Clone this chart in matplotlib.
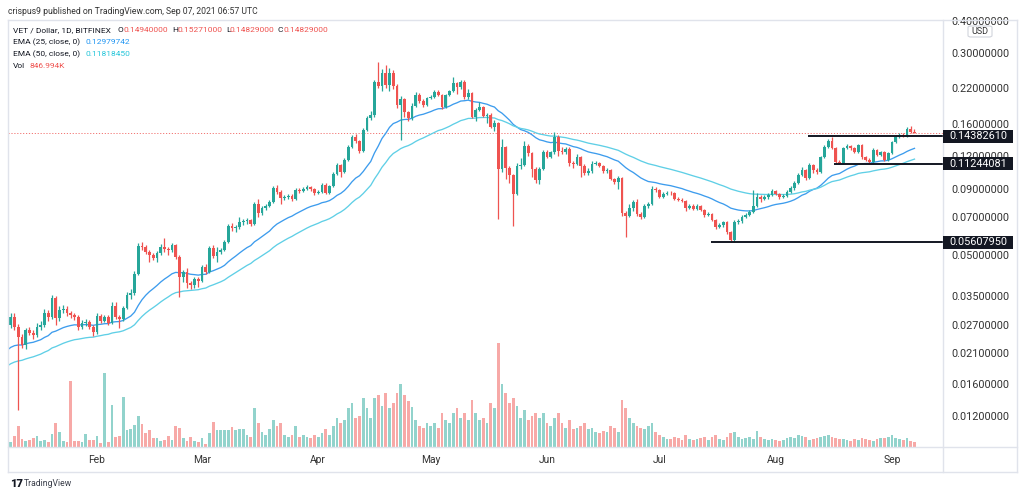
import matplotlib
matplotlib.use("Agg")
import matplotlib.pyplot as plt
import matplotlib.dates as mdates
from matplotlib.patches import Rectangle, FancyBboxPatch
from matplotlib.lines import Line2D
from matplotlib.ticker import NullLocator, FixedLocator, FixedFormatter
import numpy as np
import pandas as pd

plt.rcParams['font.family'] = ['Roboto', 'DejaVu Sans']

# ---------------- data ----------------
dates = pd.date_range('2021-01-08', '2021-09-07', freq='D')

closes = [
    .0270, .0290, .0265, .0242, .0226, .0258, .0251, .0247, .0265, .0270,
    .0300, .0290, .0343, .0287, .0308, .0311, .0300, .0295, .0290, .0265,
    .0275, .0277, .0265, .0253, .0292, .0280, .0290, .0275, .0320, .0290,
    .0284, .0314, .0352, .0358, .0424, .0543, .0539, .0515, .0501, .0488,
    .0510, .0539, .0529, .0524, .0548, .0493, .0413, .0431, .0391, .0385,
    .0405, .0398, .0451, .0431, .0534, .0497, .0515, .0524, .0563, .0648,
    .0636, .0642, .0671, .0677, .0683, .0659, .0788, .0727, .0760, .0774,
    .0802, .0907, .0876, .0831, .0838, .0846, .0824, .0892, .0884, .0899,
    .0915, .0899, .0869, .0876, .0932, .0869, .0924, .1027, .1113, .1045,
    .1163, .1305, .1425, .1376, .1259, .1516, .1686, .1732, .2320, .2240,
    .2512, .2260, .2512, .2240, .1892, .1995, .1778, .1686, .1876, .2067,
    .1961, .1892, .2013, .2031, .2123, .2067, .1859, .2067, .2142, .2300,
    .2220, .2320, .2031, .2104, .1701, .1810, .1859, .1716, .1732, .1557,
    .1614, .1074, .1305, .1083, .1018, .0861, .1103, .1113, .1316, .1237,
    .1074, .0974, .1074, .1248, .1194, .1248, .1425, .1259, .1248, .1282,
    .1133, .1123, .1194, .1103, .1036, .1055, .1123, .1133, .1103, .1055,
    .1064, .0982, .0957, .0991, .0727, .0708, .0760, .0802, .0721, .0702,
    .0774, .0788, .0899, .0892, .0838, .0861, .0869, .0866, .0824, .0816,
    .0809, .0760, .0774, .0754, .0774, .0747, .0715, .0721, .0683, .0642,
    .0653, .0671, .0615, .0573, .0671, .0677, .0702, .0715, .0734, .0774,
    .0838, .0824, .0838, .0853, .0884, .0861, .0838, .0846, .0876, .0907,
    .0948, .1018, .1064, .0991, .1113, .1064, .1045, .1194, .1305, .1376,
    .1293, .1143, .1133, .1293, .1316, .1293, .1248, .1328, .1194, .1163,
    .1143, .1270, .1215, .1248, .1163, .1237, .1364, .1425, .1450, .1438,
    .1530, .1494, .14829,
]

opens = [
    .0282, .0270, .0290, .0265, .0242, .0226, .0258, .0251, .0247, .0265,
    .0270, .0300, .0290, .0343, .0287, .0308, .0311, .0300, .0295, .0290,
    .0265, .0275, .0277, .0265, .0253, .0292, .0280, .0290, .0275, .0320,
    .0290, .0284, .0314, .0352, .0358, .0424, .0543, .0539, .0515, .0501,
    .0488, .0510, .0539, .0529, .0524, .0548, .0493, .0413, .0431, .0391,
    .0385, .0405, .0398, .0451, .0431, .0534, .0497, .0515, .0524, .0563,
    .0648, .0636, .0642, .0671, .0677, .0683, .0659, .0788, .0727, .0760,
    .0774, .0802, .0907, .0876, .0831, .0838, .0846, .0824, .0892, .0884,
    .0899, .0915, .0899, .0869, .0876, .0932, .0869, .0924, .1027, .1113,
    .1045, .1163, .1305, .1425, .1376, .1259, .1516, .1686, .1732, .2320,
    .2240, .2512, .2260, .2512, .2240, .1892, .1995, .1778, .1686, .1876,
    .2067, .1961, .1892, .2013, .2031, .2123, .2067, .1859, .2067, .2142,
    .2300, .2220, .2320, .2031, .2104, .1701, .1810, .1859, .1716, .1732,
    .1557, .1614, .1074, .1305, .1083, .1018, .0861, .1103, .1113, .1316,
    .1237, .1074, .0974, .1074, .1248, .1194, .1248, .1425, .1259, .1248,
    .1282, .1133, .1123, .1194, .1103, .1036, .1055, .1123, .1133, .1103,
    .1055, .1064, .0982, .0957, .0991, .0727, .0708, .0760, .0802, .0721,
    .0702, .0774, .0788, .0899, .0892, .0838, .0861, .0869, .0866, .0824,
    .0816, .0809, .0760, .0774, .0754, .0774, .0747, .0715, .0721, .0683,
    .0642, .0653, .0671, .0615, .0573, .0671, .0677, .0702, .0715, .0734,
    .0774, .0838, .0824, .0838, .0853, .0884, .0861, .0838, .0846, .0876,
    .0907, .0948, .1018, .1064, .0991, .1113, .1064, .1045, .1194, .1305,
    .1376, .1293, .1143, .1133, .1293, .1316, .1293, .1248, .1328, .1194,
    .1163, .1143, .1270, .1215, .1248, .1163, .1237, .1364, .1425, .1450,
    .1438, .1530, .1494,
]

highs = [
    .0295, .0300, .0300, .0272, .0250, .0262, .0266, .0258, .0275, .0279,
    .0312, .0308, .0352, .0350, .0318, .0322, .0318, .0306, .0300, .0294,
    .0282, .0284, .0282, .0270, .0300, .0298, .0296, .0294, .0330, .0330,
    .0296, .0320, .0362, .0370, .0435, .0560, .0562, .0548, .0525, .0510,
    .0520, .0552, .0582, .0540, .0556, .0552, .0500, .0440, .0445, .0398,
    .0412, .0412, .0458, .0462, .0545, .0550, .0540, .0532, .0572, .0660,
    .0665, .0655, .0700, .0692, .0695, .0690, .0800, .0820, .0772, .0785,
    .0815, .0925, .0935, .0890, .0850, .0860, .0858, .0905, .0905, .0912,
    .0928, .0925, .0910, .0890, .0945, .0948, .0935, .1045, .1130, .1125,
    .1180, .1330, .1450, .1460, .1390, .1540, .1710, .1800, .2360, .2760,
    .2600, .2690, .2620, .2580, .2280, .2050, .2020, .1800, .1920, .2130,
    .2100, .2000, .2040, .2060, .2160, .2160, .2080, .2090, .2170, .2420,
    .2330, .2370, .2360, .2180, .2120, .1850, .1950, .1880, .1760, .1760,
    .1660, .1630, .1400, .1320, .1100, .1030, .1130, .1180, .1380, .1340,
    .1250, .1090, .1090, .1270, .1270, .1260, .1490, .1450, .1300, .1300,
    .1300, .1150, .1230, .1210, .1120, .1080, .1150, .1150, .1140, .1110,
    .1080, .1070, .0990, .1010, .1000, .0740, .0790, .0815, .0820, .0735,
    .0790, .0800, .0920, .0915, .0900, .0875, .0880, .0880, .0875, .0835,
    .0828, .0815, .0785, .0785, .0785, .0782, .0752, .0732, .0728, .0690,
    .0665, .0680, .0678, .0622, .0685, .0690, .0712, .0725, .0745, .0892,
    .0870, .0850, .0850, .0868, .0900, .0895, .0870, .0858, .0888, .0920,
    .0965, .1040, .1090, .1075, .1130, .1125, .1080, .1210, .1325, .1400,
    .1420, .1300, .1160, .1310, .1340, .1330, .1310, .1345, .1340, .1210,
    .1180, .1290, .1285, .1260, .1260, .1250, .1380, .1450, .1475, .1480,
    .1560, .1565, .15271,
]

lows = [
    .0255, .0262, .0258, .0127, .0220, .0218, .0246, .0238, .0242, .0258,
    .0266, .0280, .0285, .0270, .0280, .0300, .0293, .0288, .0283, .0258,
    .0260, .0268, .0260, .0245, .0250, .0275, .0276, .0270, .0272, .0285,
    .0262, .0280, .0310, .0340, .0352, .0420, .0525, .0505, .0470, .0478,
    .0470, .0500, .0515, .0500, .0515, .0485, .0345, .0395, .0375, .0372,
    .0375, .0378, .0395, .0425, .0428, .0490, .0470, .0505, .0518, .0558,
    .0620, .0615, .0630, .0655, .0662, .0650, .0655, .0700, .0715, .0745,
    .0765, .0795, .0860, .0790, .0815, .0825, .0810, .0815, .0870, .0875,
    .0890, .0885, .0855, .0860, .0870, .0860, .0860, .0915, .1015, .1000,
    .1035, .1150, .1290, .1350, .1240, .1250, .1500, .1660, .1700, .2200,
    .2150, .2200, .2150, .2180, .1850, .1390, .1700, .1640, .1660, .1860,
    .1930, .1860, .1870, .1990, .2010, .2050, .1830, .1850, .2050, .2130,
    .2080, .2190, .1990, .2000, .1680, .1650, .1790, .1700, .1620, .1540,
    .1500, .0690, .1050, .0980, .0950, .0650, .0850, .1070, .1100, .1200,
    .1000, .0950, .0940, .1060, .1180, .1180, .1230, .1200, .1230, .1230,
    .1100, .1080, .1110, .1000, .1020, .1020, .1040, .1110, .1090, .1040,
    .1040, .0970, .0940, .0900, .0710, .0590, .0700, .0740, .0710, .0690,
    .0695, .0760, .0780, .0875, .0830, .0830, .0850, .0855, .0815, .0808,
    .0800, .0740, .0752, .0745, .0748, .0740, .0705, .0708, .0675, .0630,
    .0635, .0645, .0605, .0561, .0565, .0660, .0665, .0695, .0708, .0725,
    .0765, .0805, .0815, .0825, .0845, .0850, .0825, .0830, .0838, .0865,
    .0895, .0940, .1005, .0975, .0985, .1040, .1030, .1035, .1180, .1290,
    .1280, .1120, .1120, .1120, .1280, .1270, .1235, .1240, .1170, .1150,
    .1120, .1124, .1200, .1205, .1150, .1150, .1225, .1350, .1410, .1420,
    .1430, .1480, .14829,
]

# volume, millions of VET
volumes = [
    1.36, 0.85, 1.87, 3.74, 1.36, 1.02, 1.19, 1.53, 1.87, 1.02,
    1.19, 0.85, 2.21, 4.25, 2.55, 1.02, 0.85, 11.56, 1.02, 1.02,
    0.85, 2.21, 1.19, 1.19, 1.87, 0.68, 12.92, 0.85, 7.31, 1.70,
    1.87, 8.67, 2.89, 3.23, 3.91, 5.44, 4.08, 2.38, 2.89, 1.53,
    1.53, 1.02, 1.19, 1.87, 1.19, 3.74, 3.40, 1.53, 1.02, 1.70,
    1.02, 0.85, 1.53, 0.51, 2.38, 4.42, 2.89, 2.89, 2.89, 2.89,
    3.57, 2.89, 3.23, 3.06, 2.04,
    1.70, 6.80, 4.25, 2.55, 2.04, 3.06, 4.76, 3.74, 4.25, 2.04,
    1.70, 2.04, 3.74, 1.70, 2.04, 1.70, 1.53, 2.04,
    1.70, 2.38, 3.06, 2.04, 3.74, 5.10, 4.25, 4.76, 6.80, 7.65,
    5.10, 5.44, 8.50, 6.80, 5.10, 8.50, 9.00, 7.14, 9.35, 6.80,
    7.65, 9.35, 11.00, 9.00, 8.00, 7.00, 4.76, 3.74, 3.40, 4.25,
    3.74, 4.25, 3.40, 5.95, 4.76, 4.25, 5.95, 6.80, 5.10, 5.95,
    4.76, 8.16, 5.95, 4.76, 5.10, 4.25, 7.65, 6.80, 18.19, 11.05,
    9.35, 7.65, 8.50, 7.14, 5.10, 6.46, 4.76, 5.44, 5.95, 5.10, 5.95,
    4.25, 3.74, 5.10, 5.95, 4.25, 3.40, 4.76, 3.06, 3.40, 3.74,
    4.25, 3.06, 3.40, 2.55, 2.38, 2.72, 2.55, 3.74, 3.40, 2.55,
    8.16, 6.80, 5.10, 4.25, 3.74, 3.40, 3.06, 3.74, 4.25, 2.55,
    2.04, 1.70, 1.36, 1.36, 1.70, 1.53, 1.19, 2.04, 1.36, 1.19,
    1.36, 1.53, 1.70, 1.19, 1.70, 2.04, 1.36, 1.19, 1.70, 2.38,
    2.55, 1.70, 1.36, 1.53, 1.70, 1.36, 2.72, 1.70, 1.36, 1.19,
    1.36, 1.19, 1.02, 1.19, 1.53, 1.70, 1.53, 2.04, 1.87, 1.70,
    1.19, 1.36, 1.53, 1.70, 1.87, 2.04, 1.70, 1.53, 1.36, 1.36,
    1.19, 1.02, 1.36, 1.19, 1.53, 1.36, 1.19, 1.02, 1.36, 1.53,
    1.53, 1.70, 2.04, 1.53, 1.36, 1.19, 1.53, 1.02, 0.847,
]

ema25_seed = 0.0211   # EMA values just before the first visible candle
ema50_seed = 0.0184

month_dates = ['2021-02-01', '2021-03-01', '2021-04-01', '2021-05-01',
               '2021-06-01', '2021-07-01', '2021-08-01', '2021-09-01']
month_labels = ['Feb', 'Mar', 'Apr', 'May', 'Jun', 'Jul', 'Aug', 'Sep']

price_ticks = [0.012, 0.016, 0.021, 0.027, 0.035, 0.05, 0.07, 0.09,
               0.12, 0.16, 0.22, 0.30, 0.40]

level_prices = [0.14382610, 0.11244081, 0.05607950]
level_starts = ['2021-08-09 14:00', '2021-08-16 12:00', '2021-07-14 16:00']

last_close = 0.14829

# ---------------- styling ----------------
UP, DOWN = '#26a69a', '#ef5350'
UP_V, DOWN_V = '#92d3cc', '#f7a9a7'
EMA25_C, EMA50_C = '#3d9ced', '#5fcfe6'
TXT = '#131722'
GRID = '#e0e3eb'

W, H = 1024, 497
fig = plt.figure(figsize=(W / 100, H / 100), dpi=100)
fig.patch.set_facecolor('white')


def FX(px):
    return px / W


def FY(py):
    return 1 - py / H


PANE_L, PANE_R, PANE_T, PANE_B = 8, 943, 20, 447
rect = [FX(PANE_L), FY(PANE_B), FX(PANE_R) - FX(PANE_L), FY(PANE_T) - FY(PANE_B)]
axv = fig.add_axes(rect)
ax = fig.add_axes(rect, sharex=axv)
ax.set_facecolor('none')
axv.set_facecolor('white')

x = mdates.date2num(dates.to_pydatetime())
o, h, l, c = map(np.array, (opens, highs, lows, closes))
up = c >= o

# volume
vcol = np.where(up, UP_V, DOWN_V)
axv.bar(x, volumes, width=0.74, color=vcol, linewidth=0)
axv.set_ylim(0, 74.6)
axv.axis('off')

# candles
col = np.where(up, UP, DOWN)
ax.vlines(x, l, h, colors=col, linewidth=0.9, zorder=3)
ax.bar(x, np.maximum(np.abs(c - o), 1e-5), bottom=np.minimum(o, c), width=0.72,
       color=col, linewidth=0, zorder=4)


def ema(vals, span, seed):
    a = 2.0 / (span + 1)
    out, e = [], seed
    for v in vals:
        e = a * v + (1 - a) * e
        out.append(e)
    return np.array(out)


ax.plot(x, ema(closes, 25, ema25_seed), color=EMA25_C, lw=0.95, zorder=2)
ax.plot(x, ema(closes, 50, ema50_seed), color=EMA50_C, lw=0.95, zorder=2)

base = mdates.date2num(pd.Timestamp('2021-01-01').to_pydatetime())
xlim = (base + 7.27, base + 256.6)
ax.set_xlim(*xlim)
ax.set_yscale('log')
ax.set_ylim(0.009156, 0.30 * 10 ** ((53 - PANE_T) / 260))

# last price dotted line
ax.axhline(last_close, color=DOWN, lw=0.7, ls=(0, (1.2, 1.8)), alpha=0.8, zorder=1)

# horizontal levels
for p, s in zip(level_prices, level_starts):
    ax.hlines(p, mdates.date2num(pd.Timestamp(s).to_pydatetime()), xlim[1],
              color=TXT, lw=1.4, zorder=5)

# axes ticks
ax.yaxis.tick_right()
ax.yaxis.set_major_locator(FixedLocator(price_ticks))
ax.yaxis.set_major_formatter(FixedFormatter(['%.8f' % t for t in price_ticks]))
ax.yaxis.set_minor_locator(NullLocator())
ax.tick_params(axis='y', length=0, pad=6, labelsize=7.8, labelcolor='#333333')
ax.set_xticks(mdates.date2num([pd.Timestamp(d).to_pydatetime() for d in month_dates]))
ax.set_xticklabels(month_labels)
ax.xaxis.set_minor_locator(NullLocator())
ax.tick_params(axis='x', length=0, pad=6, labelsize=7.4, labelcolor='#333333')
for sp in ax.spines.values():
    sp.set_visible(False)


# frame
def fline(x0, y0, x1, y1, color=GRID, lw=1.0):
    fig.add_artist(Line2D([FX(x0), FX(x1)], [FY(y0), FY(y1)], color=color, lw=lw,
                          transform=fig.transFigure, zorder=1))


fline(7.5, 20, 1016.5, 20)
fline(7.5, 472, 1016.5, 472)
fline(7.5, 20, 7.5, 472)
fline(1016.5, 20, 1016.5, 472)
fline(7.5, 447, 1016.5, 447)
fline(943, 20, 943, 472)

# level labels on price axis
fig.canvas.draw()
for p in level_prices:
    yp = ax.transData.transform((xlim[0], p))[1]
    fig.add_artist(Rectangle((FX(943), (yp - 6.5) / H), 70 / W, 13 / H,
                             transform=fig.transFigure, facecolor=TXT,
                             edgecolor='none', zorder=5))
    fig.text(FX(978), yp / H, '%.8f' % p, color='white', fontsize=7.8,
             ha='center', va='center', zorder=6)

# USD badge
fig.add_artist(FancyBboxPatch((FX(968), FY(37)), 24 / W, 11 / H,
                              boxstyle='round,pad=0,rounding_size=0.003',
                              transform=fig.transFigure, facecolor='white',
                              edgecolor='#d1d4dc', lw=0.8, zorder=5))
fig.text(FX(980), FY(31.5), 'USD', fontsize=6.5, color='#333333', ha='center',
         va='center', zorder=6)

# header + legend
fig.text(FX(8), FY(11), 'crispus9 published on TradingView.com, Sep 07, 2021 06:57 UTC',
         fontsize=6.2, color='#333333', ha='left', va='center')
LS = 6.0
fig.text(FX(13), FY(30), 'VET / Dollar, 1D, BITFINEX', fontsize=LS, color=TXT, va='center')
for letter, lx, val, vx in [('O', 118, '0.14940000', 123), ('H', 172, '0.15271000', 177),
                            ('L', 226, '0.14829000', 230), ('C', 278, '0.14829000', 283)]:
    fig.text(FX(lx), FY(30), letter, fontsize=LS, color=TXT, va='center')
    fig.text(FX(vx), FY(30), val, fontsize=LS, color=DOWN, va='center')
fig.text(FX(13), FY(42), 'EMA (25, close, 0)', fontsize=LS, color=TXT, va='center')
fig.text(FX(86), FY(42), '0.12979742', fontsize=LS, color='#2196f3', va='center')
fig.text(FX(13), FY(54), 'EMA (50, close, 0)', fontsize=LS, color=TXT, va='center')
fig.text(FX(86), FY(54), '0.11818450', fontsize=LS, color='#26c6da', va='center')
fig.text(FX(13), FY(66), 'Vol', fontsize=LS, color=TXT, va='center')
fig.text(FX(30), FY(66), '846.994K', fontsize=LS, color=DOWN, va='center')

# TradingView logo
fig.text(FX(10), FY(484), '17', fontsize=8, fontweight='heavy', color=TXT, va='center')
fig.text(FX(24), FY(484), 'TradingView', fontsize=6.2, color='#3a3e4a', va='center')

fig.savefig('out.png', dpi=100, facecolor='white')
